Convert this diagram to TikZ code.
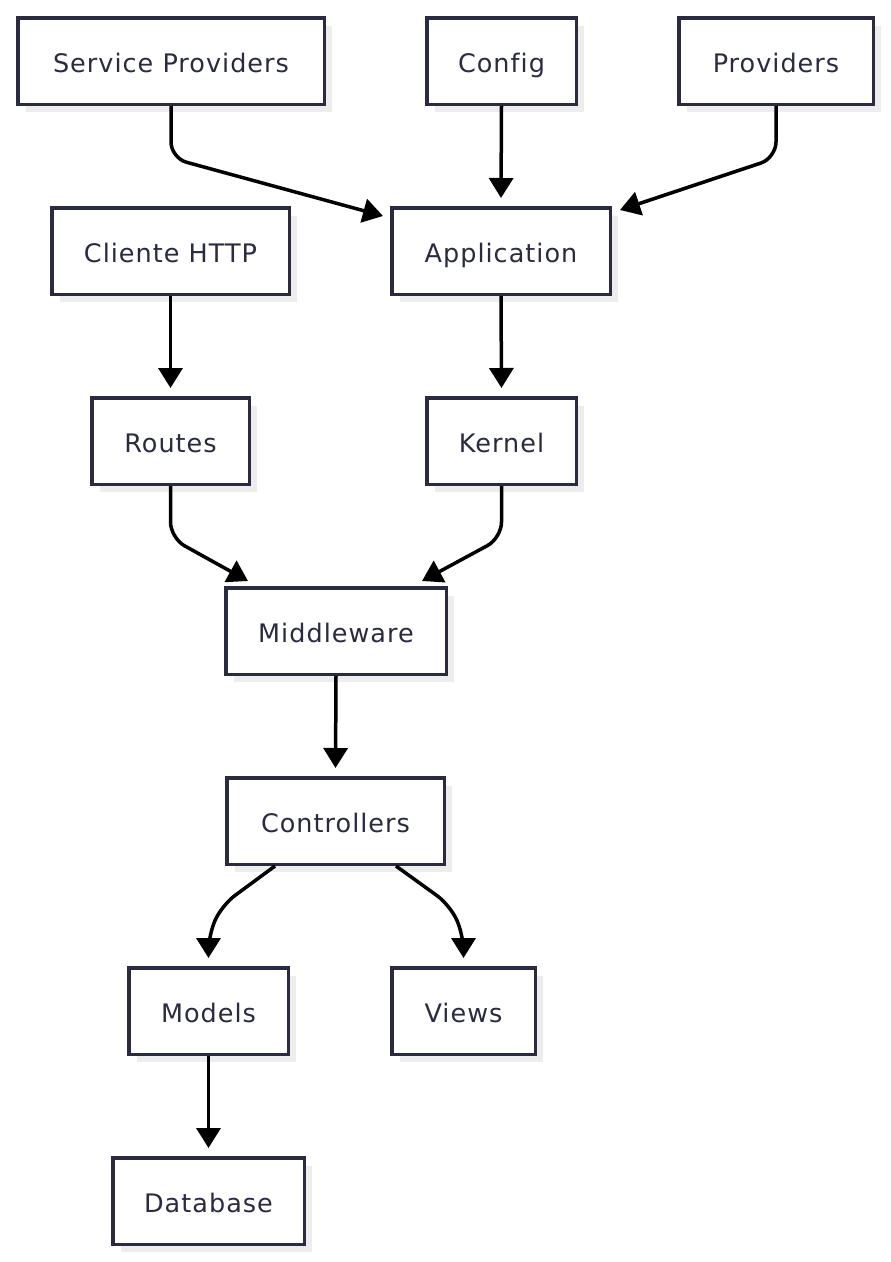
\documentclass[tikz,border=0pt]{standalone}
\usepackage{fontspec}
\setmainfont[LetterSpace=4,Ligatures=NoCommon]{DejaVu Sans}
\usetikzlibrary{arrows.meta,shadows,positioning}
\definecolor{ink}{HTML}{2A2A40}
\definecolor{shade}{HTML}{EDEDED}
\tikzset{
  box/.style={draw=ink, line width=3.5pt, fill=white, text=ink, minimum height=86.5pt,
    inner sep=0pt, font=\fontsize{25.5}{28}\selectfont, text height=25pt, text depth=3pt,
    drop shadow={shadow xshift=8pt, shadow yshift=-8pt, fill=shade, opacity=1}},
  conn/.style={line width=3.5pt, black, rounded corners=16pt,
    -{Triangle[length=20pt,width=24pt]}},
}
\begin{document}
\begin{tikzpicture}[x=1pt,y=-1pt]
\useasboundingbox (0,0) rectangle (891,1262);
\node[box, minimum width=306.5pt] (sp) at (171,61) {Service Providers};
\node[box, minimum width=149.5pt] (cfg) at (501.5,61) {Config};
\node[box, minimum width=194.5pt] (prov) at (776,61) {Providers};
\node[box, minimum width=237.5pt] (cli) at (170.5,251) {Cliente HTTP};
\node[box, minimum width=218.5pt] (app) at (501,251) {Application};
\node[box, minimum width=157.5pt] (rt) at (170.5,441) {Routes};
\node[box, minimum width=149.5pt] (ker) at (501.5,441) {Kernel};
\node[box, minimum width=220.5pt] (mw) at (336,631) {Middleware};
\node[box, minimum width=217.5pt] (ctl) at (335.5,821) {Controllers};
\node[box, minimum width=159.5pt] (mod) at (208.5,1011) {Models};
\node[box, minimum width=143.5pt] (vw) at (463.5,1011) {Views};
\node[box, minimum width=191.5pt] (db) at (208.5,1201) {Database};

\coordinate (spA) at (383,216);
\coordinate (provA) at (620,210);
\coordinate (rtA) at (248,581);
\coordinate (kerA) at (422,581);

\draw[conn] (sp.south) -- (171,158) -- (spA);
\draw[conn] (cfg.south) -- ([yshift=8pt]app.north);
\draw[conn] (prov.south) -- (776,158) -- (provA);
\draw[conn] (cli.south) -- ([yshift=8pt]rt.north);
\draw[conn] (app.south) -- ([yshift=8pt]ker.north);
\draw[conn] (rt.south) -- (170.5,538) -- (rtA);
\draw[conn] (ker.south) -- (501.5,538) -- (kerA);
\draw[conn] (mw.south) -- ([yshift=8pt]ctl.north);
\draw[conn] (ctl.south -| 275,0) -- (222,905) -- (208.5,935) -- ([yshift=8pt]mod.north);
\draw[conn] (ctl.south -| 396,0) -- (450,905) -- (463.5,935) -- ([yshift=8pt]vw.north);
\draw[conn] (mod.south) -- ([yshift=8pt]db.north);
\end{tikzpicture}
\end{document}
